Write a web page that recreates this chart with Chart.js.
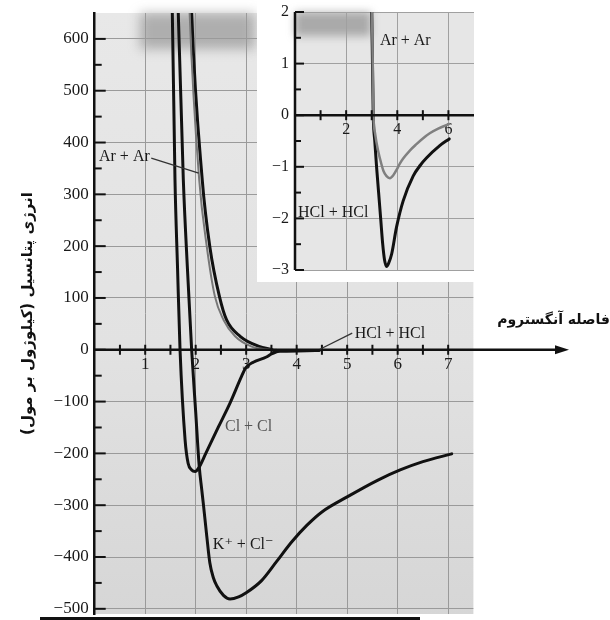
<!DOCTYPE html>
<html><head><meta charset="utf-8">
<script src="https://cdn.jsdelivr.net/npm/chart.js@4.4.0/dist/chart.umd.min.js"></script>
<style>
html,body{margin:0;padding:0;background:#fff;}
#wrap{position:relative;width:610px;height:620px;overflow:hidden;}
#main{position:absolute;left:0;top:0;}
#inset{position:absolute;left:257px;top:0;}
</style></head><body>
<div id="wrap">
<canvas id="main" width="610" height="620"></canvas>
<canvas id="inset" width="222" height="282"></canvas>
</div>
<script>
// ---------- main chart data (distance in Å, energy in kJ/mol) ----------
const clclX = [1.50, 1.537, 1.59, 1.64, 1.69, 1.79, 1.85, 1.92, 1.99, 2.06, 2.20, 2.45, 2.68, 2.91, 2.99, 3.14, 3.40, 3.50, 3.65];
const clclY = [720, 650, 328, 160, 0, -174, -219, -232, -235, -228, -200, -149, -103, -51, -35, -24, -14, -8, -2];

const kclX = [1.62, 1.655, 1.755, 1.84, 1.92, 2.00, 2.07, 2.12, 2.15, 2.22, 2.28, 2.35, 2.42, 2.55, 2.68, 2.85, 3.00, 3.30, 3.60, 3.90, 4.20, 4.50, 5.00, 5.60, 6.05, 6.50, 7.07];
const kclY = [720, 650, 328, 150, 0, -120, -225, -270, -296, -360, -411, -440, -456, -474, -481, -477, -469, -446, -409, -371, -339, -313, -284, -252, -232, -216, -201];

const arX = [1.86, 1.88, 2.07, 2.22, 2.38, 2.55, 2.78, 3.11, 3.40, 3.60];
const arY = [720, 650, 328, 199, 103, 58, 26, 6, 1, 0];

const hclX = [1.90, 1.92, 2.13, 2.28, 2.47, 2.61, 2.88, 3.27, 3.50, 3.58, 3.80, 4.20, 4.45];
const hclY = [720, 650, 328, 199, 103, 58, 26, 6, 0.5, -2.9, -2.7, -1.7, -1.3];

const mainXTicks = [0.5, 1, 1.5, 2, 2.5, 3, 3.5, 4, 4.5, 5, 5.5, 6, 6.5, 7];
const mainXLabels = [1, 2, 3, 4, 5, 6, 7];
const mainYTicks = [-500, -450, -400, -350, -300, -250, -200, -150, -100, -50, 0, 50, 100, 150, 200, 250, 300, 350, 400, 450, 500, 550, 600];
const mainYLabels = [-500, -400, -300, -200, -100, 0, 100, 200, 300, 400, 500, 600];

// ---------- inset data ----------
const insetArX = [2.98, 3.01, 3.04, 3.07, 3.13, 3.25, 3.38, 3.46, 3.58, 3.71, 3.85, 3.97, 4.10, 4.23, 4.50, 4.75, 5.00, 5.27, 5.60, 6.03];
const insetArY = [2.6, 2.0, 1.0, 0, -0.35, -0.69, -0.95, -1.08, -1.18, -1.22, -1.16, -1.06, -0.94, -0.84, -0.68, -0.56, -0.45, -0.35, -0.26, -0.17];

const insetHclX = [2.97, 3.00, 3.03, 3.06, 3.12, 3.19, 3.27, 3.35, 3.43, 3.50, 3.58, 3.66, 3.78, 3.97, 4.23, 4.62, 4.90, 5.14, 5.66, 6.03];
const insetHclY = [2.6, 2.0, 1.0, 0, -0.5, -1.0, -1.5, -2.0, -2.5, -2.8, -2.93, -2.87, -2.69, -2.17, -1.66, -1.18, -0.97, -0.83, -0.59, -0.46];

const insetXTicks = [1, 2, 3, 4, 5, 6];
const insetXLabels = [2, 4, 6];
const insetYTicks = [-3, -2.5, -2, -1.5, -1, -0.5, 0, 0.5, 1, 1.5, 2];
const insetYLabels = [-3, -2, -1, 0, 1, 2];

const yTitle = '\u200F' + 'انرژی پتانسیل (کیلوژول بر مول)' + '\u200F';
const xTitle = 'فاصله آنگستروم';

const SERIF = '"Liberation Serif", "DejaVu Serif", serif';
const PERSIAN = '"DejaVu Sans", sans-serif';
const fmt = v => (v < 0 ? '\u2212' + Math.abs(v) : String(v));
const pts = (xs, ys) => xs.map((x, i) => ({x: x, y: ys[i]}));

function lineDs(xs, ys, color, w) {
  return {data: pts(xs, ys), showLine: true, borderColor: color, borderWidth: w,
    pointRadius: 0, fill: false, cubicInterpolationMode: 'monotone', borderCapStyle: 'round', borderJoinStyle: 'round'};
}

function label(ctx, sx, sy, text, xv, yv, color, size) {
  ctx.fillStyle = color;
  ctx.font = (size || 16) + 'px ' + SERIF;
  ctx.textAlign = 'left';
  ctx.textBaseline = 'middle';
  ctx.fillText(text, sx.getPixelForValue(xv), sy.getPixelForValue(yv));
}
function leader(ctx, sx, sy, x1, y1, x2, y2) {
  ctx.strokeStyle = '#333'; ctx.lineWidth = 1.3;
  ctx.beginPath();
  ctx.moveTo(sx.getPixelForValue(x1), sy.getPixelForValue(y1));
  ctx.lineTo(sx.getPixelForValue(x2), sy.getPixelForValue(y2));
  ctx.stroke();
}
// keep tick-label overhang from shrinking the plot area
function fixY(width) {
  return s => { s.width = width; s.paddingTop = 0; s.paddingBottom = 0; };
}

const mainDeco = {
  id: 'mainDeco',
  beforeDraw(chart) {
    const {ctx, chartArea: a} = chart;
    ctx.save();
    ctx.fillStyle = '#fff'; ctx.fillRect(0, 0, chart.width, chart.height);
    const g = ctx.createLinearGradient(0, a.top, 0, a.bottom);
    g.addColorStop(0, '#e8e8e8'); g.addColorStop(0.55, '#e2e2e2'); g.addColorStop(1, '#d6d6d6');
    ctx.fillStyle = g; ctx.fillRect(a.left, a.top, a.right - a.left, a.bottom - a.top);
    ctx.filter = 'blur(6px)';
    ctx.fillStyle = 'rgba(105,105,105,0.45)';
    ctx.fillRect(140, a.top, 115, 36);
    ctx.filter = 'none';
    ctx.restore();
  },
  afterDatasetsDraw(chart) {
    const {ctx, chartArea: a, scales: {x, y}} = chart;
    ctx.save();
    const y0 = y.getPixelForValue(0);
    // x axis with arrow
    ctx.strokeStyle = '#111'; ctx.lineWidth = 2.5;
    ctx.beginPath(); ctx.moveTo(a.left, y0); ctx.lineTo(560, y0); ctx.stroke();
    ctx.fillStyle = '#111';
    ctx.beginPath(); ctx.moveTo(569, y0); ctx.lineTo(555, y0 - 4.5); ctx.lineTo(555, y0 + 4.5); ctx.closePath(); ctx.fill();
    ctx.lineWidth = 2;
    mainXTicks.forEach(v => {
      const px = x.getPixelForValue(v);
      ctx.beginPath(); ctx.moveTo(px, y0 - 5); ctx.lineTo(px, y0 + 5); ctx.stroke();
    });
    mainYTicks.forEach(v => {
      const py = y.getPixelForValue(v);
      const len = v % 100 === 0 ? 11 : 7;
      ctx.beginPath(); ctx.moveTo(a.left, py); ctx.lineTo(a.left + len, py); ctx.stroke();
    });
    // curve labels
    label(ctx, x, y, 'Ar + Ar', 0.085, 372, '#1a1a1a');
    leader(ctx, x, y, 1.12, 370, 2.06, 341);
    label(ctx, x, y, 'HCl + HCl', 5.15, 31, '#1a1a1a');
    leader(ctx, x, y, 4.46, 1, 5.10, 32);
    label(ctx, x, y, 'Cl + Cl', 2.58, -148, '#555');
    label(ctx, x, y, 'K\u207A + Cl\u207B', 2.34, -376, '#1a1a1a');
    // x axis title
    ctx.fillStyle = '#111';
    ctx.font = 'bold 14px ' + PERSIAN;
    ctx.textAlign = 'right'; ctx.textBaseline = 'middle';
    ctx.fillText(xTitle, 610, 320);
    // scan edge bar
    ctx.fillStyle = '#111';
    ctx.fillRect(40, 617, 380, 3);
    ctx.restore();
  }
};

new Chart(document.getElementById('main'), {
  type: 'scatter',
  data: {datasets: [
    lineDs(arX, arY, '#777', 2),
    lineDs(hclX, hclY, '#111', 3),
    lineDs(clclX, clclY, '#111', 3),
    lineDs(kclX, kclY, '#111', 3)
  ]},
  options: {
    responsive: false, animation: false, devicePixelRatio: 1,
    layout: {autoPadding: false, padding: {top: 13, right: 136.6, bottom: 6, left: 0}},
    plugins: {legend: {display: false}, tooltip: {enabled: false}},
    scales: {
      x: {
        type: 'linear', min: 0, max: 7.5, position: {y: 0},
        afterBuildTicks: s => { s.ticks = mainXTicks.map(v => ({value: v})); },
        afterFit: s => { s.paddingLeft = 0; s.paddingRight = 0; },
        ticks: {autoSkip: false, maxRotation: 0, padding: 5, color: '#1a1a1a',
          font: {family: SERIF, size: 17},
          callback: v => mainXLabels.includes(v) ? String(v) : ''},
        grid: {drawTicks: false, lineWidth: 1,
          color: c => (c.tick && mainXLabels.includes(c.tick.value)) ? '#9a9a9a' : 'rgba(0,0,0,0)'},
        border: {display: false}
      },
      y: {
        type: 'linear', min: -510, max: 650,
        afterFit: fixY(94.7),
        afterBuildTicks: s => { s.ticks = mainYTicks.map(v => ({value: v})); },
        ticks: {autoSkip: false, padding: 6, color: '#1a1a1a',
          font: {family: SERIF, size: 17},
          callback: v => mainYLabels.includes(v) ? fmt(v) : ''},
        grid: {drawTicks: false, lineWidth: 1,
          color: c => (c.tick && c.tick.value % 100 === 0 && c.tick.value !== 0) ? '#9a9a9a' : 'rgba(0,0,0,0)'},
        border: {display: true, color: '#111', width: 2.5},
        title: {display: true, text: yTitle, color: '#111',
          font: {family: PERSIAN, size: 15, weight: 'bold'}, padding: {top: 19, bottom: 0}}
      }
    }
  },
  plugins: [mainDeco]
});

const insetDeco = {
  id: 'insetDeco',
  beforeDraw(chart) {
    const {ctx, chartArea: a} = chart;
    ctx.save();
    ctx.fillStyle = '#fff'; ctx.fillRect(0, 0, chart.width, chart.height);
    ctx.fillStyle = '#e6e6e6';
    ctx.fillRect(a.left, a.top, a.right - a.left, a.bottom - a.top);
    ctx.filter = 'blur(4px)';
    ctx.fillStyle = 'rgba(110,110,110,0.5)';
    ctx.fillRect(a.left, a.top, 76, 24);
    ctx.filter = 'none';
    ctx.restore();
  },
  afterDatasetsDraw(chart) {
    const {ctx, chartArea: a, scales: {x, y}} = chart;
    ctx.save();
    const y0 = y.getPixelForValue(0);
    ctx.strokeStyle = '#111'; ctx.lineWidth = 2.5;
    ctx.beginPath(); ctx.moveTo(a.left, y0); ctx.lineTo(a.right, y0); ctx.stroke();
    ctx.beginPath(); ctx.moveTo(a.left, a.top); ctx.lineTo(a.left, a.bottom); ctx.stroke();
    ctx.lineWidth = 2;
    insetXTicks.forEach(v => {
      const px = x.getPixelForValue(v);
      ctx.beginPath(); ctx.moveTo(px, y0 - 5); ctx.lineTo(px, y0 + 5); ctx.stroke();
    });
    insetYTicks.forEach(v => {
      const py = y.getPixelForValue(v);
      const len = Number.isInteger(v) ? 9 : 6;
      ctx.beginPath(); ctx.moveTo(a.left, py); ctx.lineTo(a.left + len, py); ctx.stroke();
    });
    label(ctx, x, y, 'Ar + Ar', 3.32, 1.44, '#1a1a1a');
    label(ctx, x, y, 'HCl + HCl', 0.12, -1.89, '#1a1a1a');
    ctx.restore();
  }
};

new Chart(document.getElementById('inset'), {
  type: 'scatter',
  data: {datasets: [
    lineDs(insetArX, insetArY, '#808080', 2.5),
    lineDs(insetHclX, insetHclY, '#111', 3)
  ]},
  options: {
    responsive: false, animation: false, devicePixelRatio: 1,
    layout: {autoPadding: false, padding: {top: 12, right: 5, bottom: 12, left: 0}},
    plugins: {legend: {display: false}, tooltip: {enabled: false}},
    scales: {
      x: {
        type: 'linear', min: 0, max: 7, position: {y: 0},
        afterBuildTicks: s => { s.ticks = insetXTicks.map(v => ({value: v})); },
        afterFit: s => { s.paddingLeft = 0; s.paddingRight = 0; },
        ticks: {autoSkip: false, maxRotation: 0, padding: 5, color: '#1a1a1a',
          font: {family: SERIF, size: 16},
          callback: v => insetXLabels.includes(v) ? String(v) : ''},
        grid: {drawTicks: false, lineWidth: 1,
          color: c => (c.tick && insetXLabels.includes(c.tick.value)) ? '#a0a0a0' : 'rgba(0,0,0,0)'},
        border: {display: false}
      },
      y: {
        type: 'linear', min: -3, max: 2,
        afterFit: fixY(38),
        afterBuildTicks: s => { s.ticks = insetYTicks.map(v => ({value: v})); },
        ticks: {autoSkip: false, padding: 6, color: '#1a1a1a',
          font: {family: SERIF, size: 16},
          callback: v => insetYLabels.includes(v) ? fmt(v) : ''},
        grid: {drawTicks: false, lineWidth: 1,
          color: c => (c.tick && Number.isInteger(c.tick.value) && c.tick.value !== 0) ? '#a0a0a0' : 'rgba(0,0,0,0)'},
        border: {display: false}
      }
    }
  },
  plugins: [insetDeco]
});
</script>
</body></html>
